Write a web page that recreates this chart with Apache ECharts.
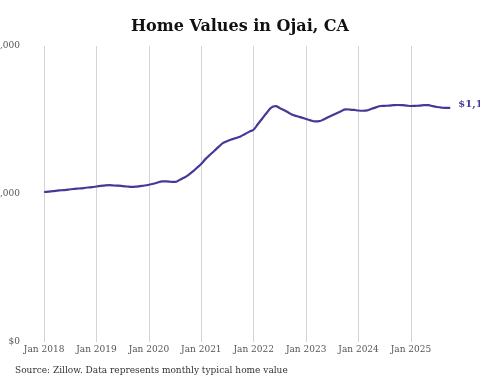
<!DOCTYPE html>
<html><head><meta charset="utf-8">
<script src="https://cdn.jsdelivr.net/npm/echarts@6/dist/echarts.min.js"></script>
<style>html,body{margin:0;padding:0;background:#fff}#c{width:480px;height:384px}</style>
</head><body><div id="c"></div>
<script>
// Monthly typical home value, Jan 2018 .. Oct 2025
var startYear = 2018;
var values = [
  760000,762000,765000,767000,769000,771000,774000,776000,778000,780000,783000,785000,
  788000,791000,794000,795000,793000,792000,790000,788000,786000,787000,790000,793000,
  797000,802000,808000,814000,814000,812000,811000,821000,832000,846000,863000,883000,
  903000,928000,949000,969000,990000,1009000,1019000,1027000,1034000,1042000,1054000,1066000,
  1077000,1106000,1134000,1162000,1188000,1195000,1185000,1174000,1162000,1150000,1144000,1137000,
  1130000,1123000,1118000,1119000,1128000,1139000,1149000,1159000,1169000,1179000,1178000,1176000,
  1173000,1172000,1174000,1182000,1189000,1196000,1197000,1198000,1200000,1201000,1200000,1198000,
  1196000,1197000,1198000,1200000,1200000,1195000,1191000,1188000,1186000,1186000
];
var yTicks = [0, 750000, 1500000];
var monthNames = ['Jan','Feb','Mar','Apr','May','Jun','Jul','Aug','Sep','Oct','Nov','Dec'];
var padBefore = 3;   // Oct-Dec 2017 shown as empty space
var totalMonths = 99; // Oct 2017 .. Dec 2025

var categories = [];
for (var i = 0; i < totalMonths; i++) {
  var m = (9 + i) % 12;
  var y = 2017 + Math.floor((9 + i) / 12);
  categories.push(monthNames[m] + ' ' + y);
}
var seriesData = [];
for (var k = 0; k < padBefore; k++) seriesData.push(null);
for (var j = 0; j < values.length; j++) seriesData.push(values[j]);

function money(v) {
  return '$' + String(Math.round(v)).replace(/\B(?=(\d{3})+(?!\d))/g, ',');
}
function isJan(idx) { return categories[idx].indexOf('Jan') === 0; }

var chart = echarts.init(document.getElementById('c'), null, {renderer: 'canvas'});
chart.setOption({
  animation: false,
  backgroundColor: '#ffffff',
  textStyle: {fontFamily: 'DejaVu Serif'},
  title: [{
    text: 'Home Values in Ojai, CA',
    left: 'center', top: 14,
    textStyle: {fontFamily: 'DejaVu Serif', fontWeight: 'bold', fontSize: 16, color: '#111'}
  }, {
    text: 'Source: Zillow. Data represents monthly typical home value',
    left: 10, top: 361,
    textStyle: {fontFamily: 'DejaVu Serif', fontWeight: 'normal', fontSize: 9, color: '#333'}
  }],
  grid: {left: 31, right: 21, top: 46, bottom: 42, containLabel: false, outerBoundsMode: 'none'},
  xAxis: {
    type: 'category',
    data: categories,
    boundaryGap: false,
    axisLine: {show: false},
    axisTick: {show: false},
    axisLabel: {
      interval: function (idx) { return isJan(idx); },
      color: '#555', fontSize: 9, fontFamily: 'DejaVu Serif', margin: 3
    },
    splitLine: {
      show: true,
      interval: function (idx) { return isJan(idx); },
      lineStyle: {color: '#d4d4d4', width: 1}
    }
  },
  yAxis: {
    type: 'value',
    min: yTicks[0], max: yTicks[yTicks.length - 1], interval: yTicks[1] - yTicks[0],
    axisLine: {show: false},
    axisTick: {show: false},
    splitLine: {show: false},
    axisLabel: {
      color: '#555', fontSize: 9, fontFamily: 'DejaVu Serif', margin: 11,
      formatter: function (v) { return money(v); }
    }
  },
  series: [{
    type: 'line',
    data: seriesData,
    smooth: 0.4,
    showSymbol: false,
    lineStyle: {color: '#433a98', width: 2.2},
    itemStyle: {color: '#433a98'},
    endLabel: {
      show: true,
      distance: 8,
      offset: [0, -4],
      formatter: function (p) { return money(p.value); },
      color: '#433a98', fontWeight: 'bold', fontSize: 10, fontFamily: 'DejaVu Serif'
    }
  }]
});
</script></body></html>
